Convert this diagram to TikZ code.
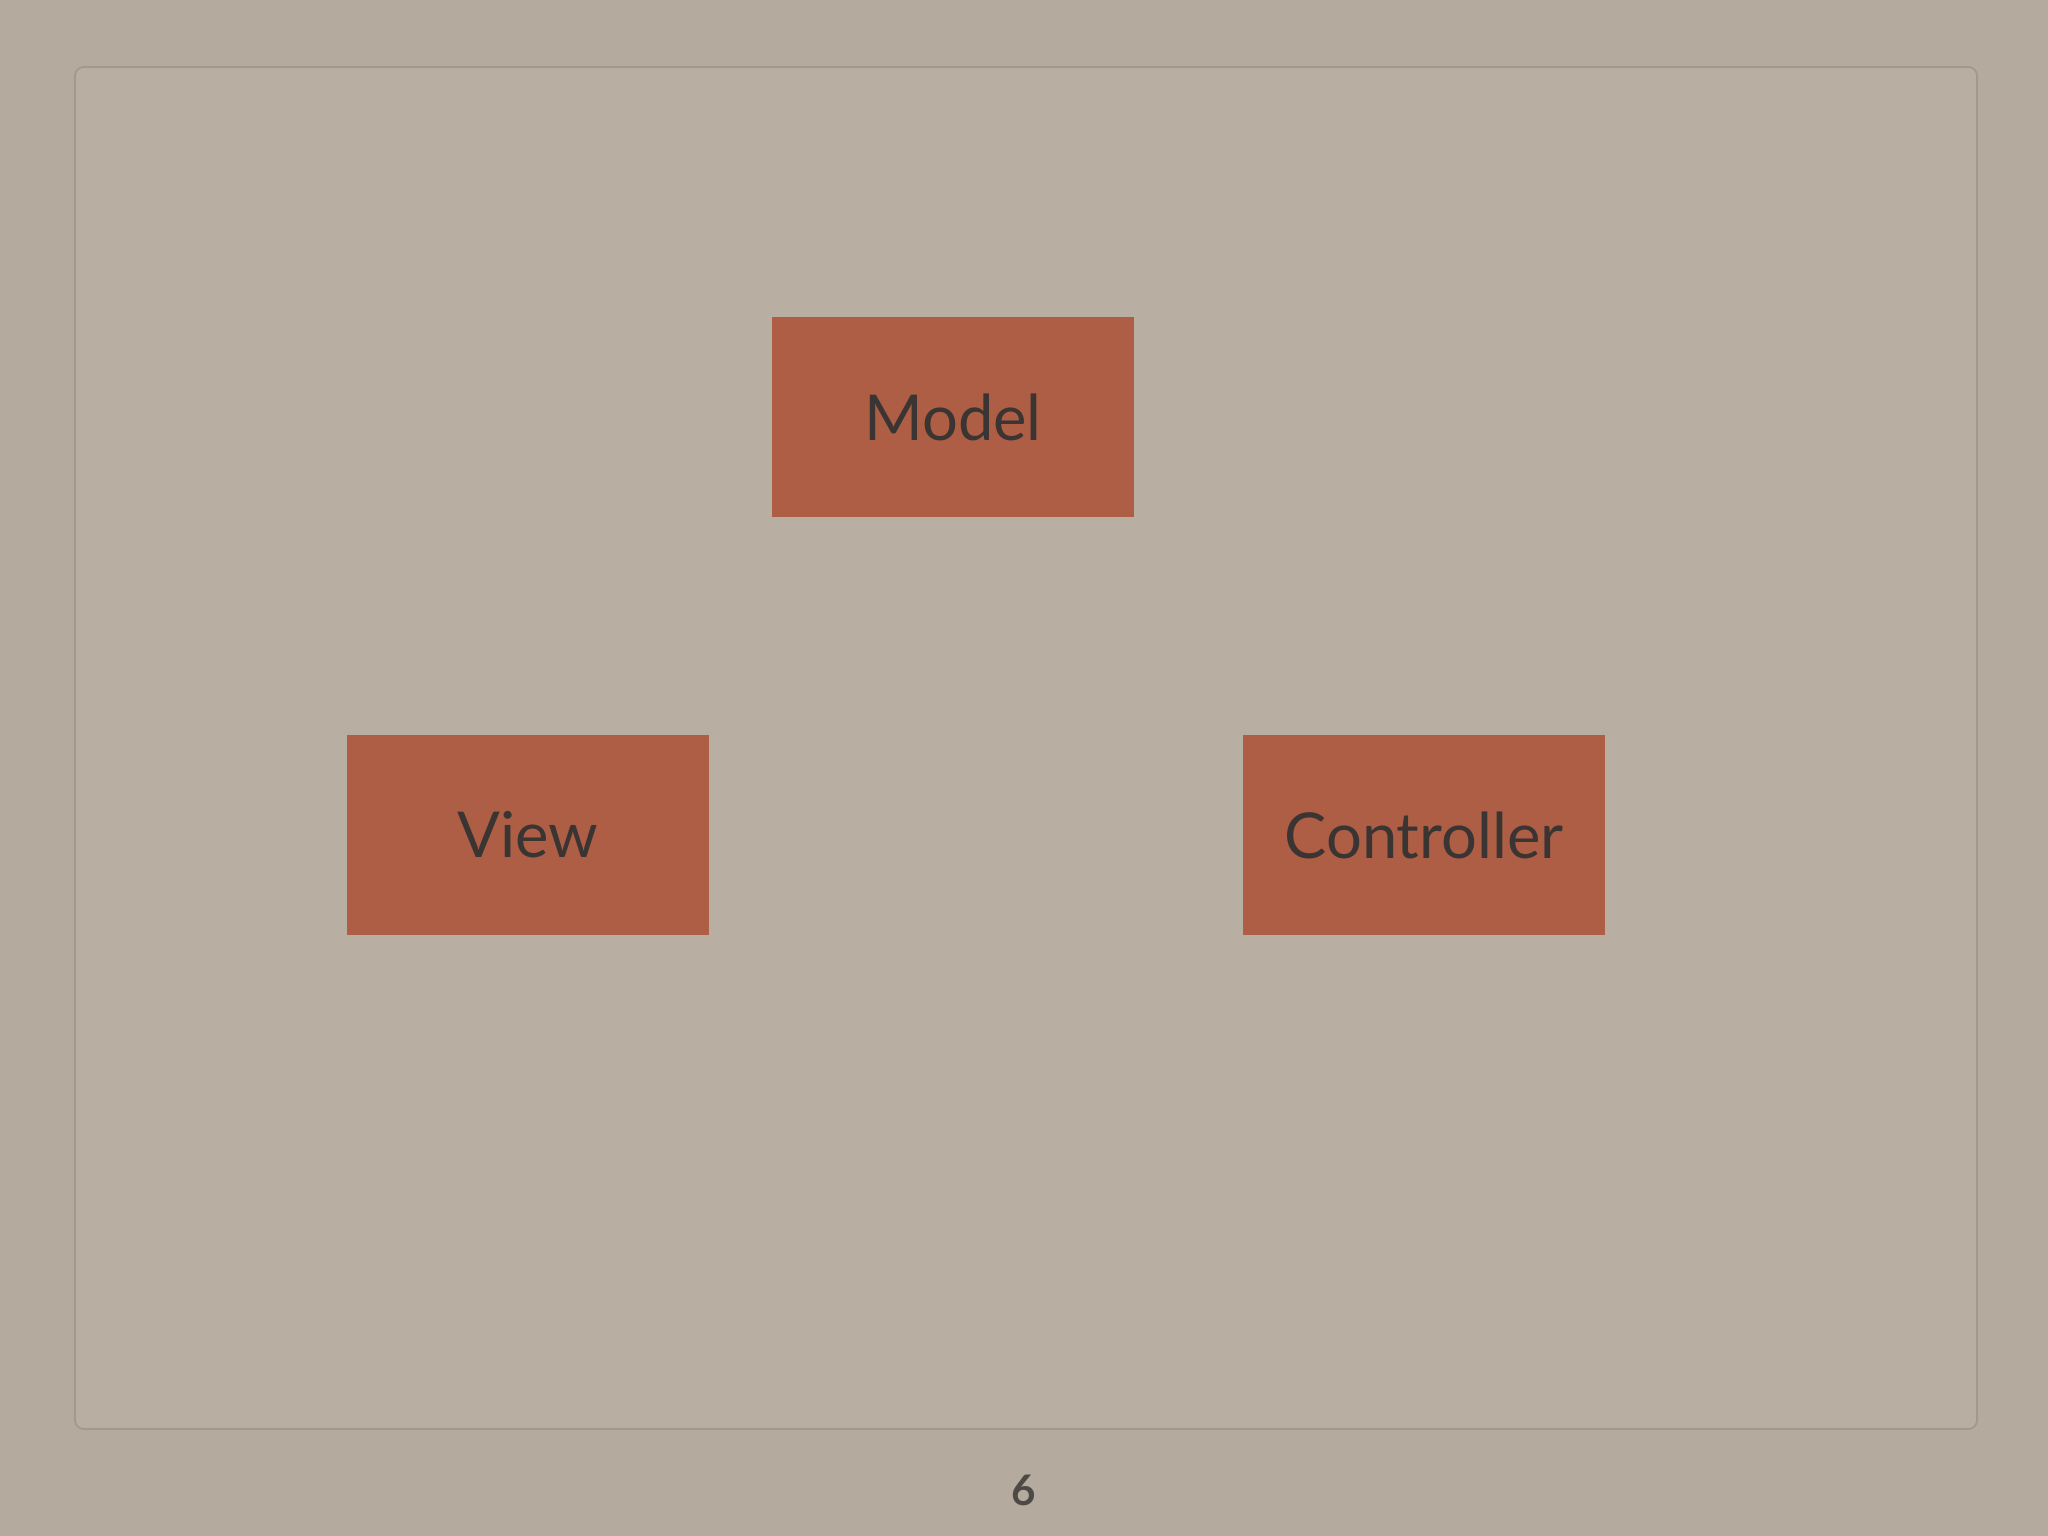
\documentclass[tikz,border=0pt]{standalone}
\usepackage{fontspec}
\setmainfont{Lato}
\definecolor{bg}{HTML}{B4AA9E}
\definecolor{framein}{HTML}{B8AEA2}
\definecolor{frameline}{HTML}{A39889}
\definecolor{boxfill}{HTML}{AE5E45}
\definecolor{txt}{HTML}{3A3533}
\begin{document}
\begin{tikzpicture}[x=0.01cm,y=-0.01cm,
  mvcbox/.style={fill=boxfill, draw=none, minimum width=3.62cm, minimum height=2.0cm, inner sep=0pt,
    text=txt, font=\fontsize{18}{20}\selectfont},
  pagenum/.style={text=txt!90, font=\bfseries\fontsize{12}{14}\selectfont}]
  \fill[bg] (0,0) rectangle (2048,1536);
  \useasboundingbox (0,0) rectangle (2048,1536);
  \draw[frameline, line width=0.5pt, rounded corners=2.5pt, fill=framein] (75,67) rectangle (1977,1429);
  \node[mvcbox] (model) at (953,417) {Model};
  \node[mvcbox] (view) at (528,835) {View};
  \node[mvcbox] (controller) at (1424,835) {Controller};
  \node[pagenum] (page) at (1024,1490) {6};
\end{tikzpicture}
\end{document}
